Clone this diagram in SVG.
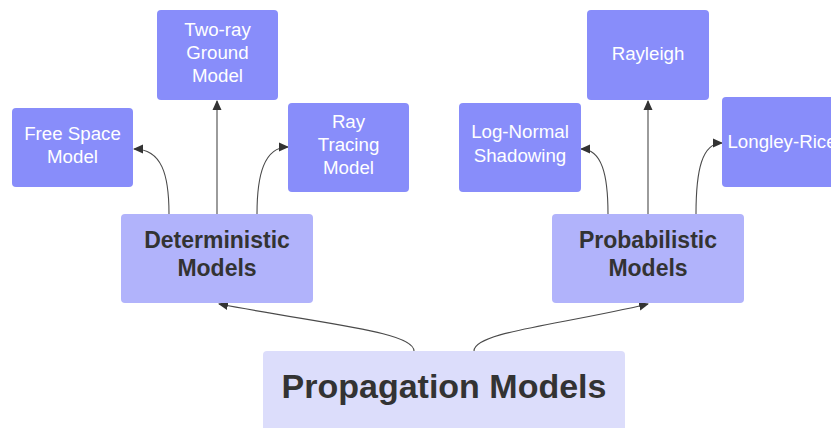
<svg xmlns="http://www.w3.org/2000/svg" width="831" height="428" viewBox="0 0 831 428">
<style>
.leaf{fill:#888DFA}
.mid{fill:#B1B3FB}
.root{fill:#DCDDFB}
.lt{font-family:"Liberation Sans",Arial,sans-serif;font-size:18.7px;fill:#ffffff;text-anchor:middle}
.mt{font-family:"Liberation Sans",Arial,sans-serif;font-size:23px;font-weight:bold;fill:#333333;text-anchor:middle}
.rt{font-family:"Liberation Sans",Arial,sans-serif;font-size:34px;font-weight:bold;fill:#333333;text-anchor:middle}
.c{fill:none;stroke:#4a4a4a;stroke-width:1.1;marker-end:url(#ah)}
</style>
<defs>
<marker id="ah" viewBox="0 0 10 10" refX="9" refY="5" markerWidth="10" markerHeight="10" markerUnits="userSpaceOnUse" orient="auto">
<path d="M0,0.5 L10,5 L0,9.5 Z" fill="#333333"/>
</marker>
</defs>
<rect width="831" height="428" fill="#ffffff"/>
<g id="connectors">
<path class="c" d="M414,351 C414,332 330,325 219,304"/>
<path class="c" d="M474,351 C474,332 560,325 648,304"/>
<path class="c" d="M169,214 C169,175 162,149 134,149"/>
<path class="c" d="M217,214 L217,101"/>
<path class="c" d="M257,214 C257,175 264,147 288,147"/>
<path class="c" d="M608,214 C608,175 602,149 581,149"/>
<path class="c" d="M648,214 L648,101"/>
<path class="c" d="M696,214 C696,170 702,143 722,143"/>
</g>
<g id="free-space">
<rect class="leaf" x="12" y="108" width="121" height="79" rx="4"/>
<text class="lt" x="72.5" y="140">Free Space</text>
<text class="lt" x="72.5" y="163">Model</text>
</g>
<g id="two-ray">
<rect class="leaf" x="157" y="10" width="121" height="90" rx="4"/>
<text class="lt" x="217.5" y="36">Two-ray</text>
<text class="lt" x="217.5" y="59">Ground</text>
<text class="lt" x="217.5" y="82">Model</text>
</g>
<g id="ray-tracing">
<rect class="leaf" x="288" y="103" width="121" height="89" rx="4"/>
<text class="lt" x="348.5" y="128">Ray</text>
<text class="lt" x="348.5" y="151">Tracing</text>
<text class="lt" x="348.5" y="174">Model</text>
</g>
<g id="log-normal">
<rect class="leaf" x="459" y="103" width="122" height="89" rx="4"/>
<text class="lt" x="520" y="138">Log-Normal</text>
<text class="lt" x="520" y="162">Shadowing</text>
</g>
<g id="rayleigh">
<rect class="leaf" x="587" y="10" width="122" height="90" rx="4"/>
<text class="lt" x="648" y="60">Rayleigh</text>
</g>
<g id="longley-rice">
<rect class="leaf" x="722" y="97" width="122" height="90" rx="4"/>
<text class="lt" x="782" y="148">Longley-Rice</text>
</g>
<g id="deterministic">
<rect class="mid" x="121" y="214" width="192" height="89" rx="4"/>
<text class="mt" x="217" y="248">Deterministic</text>
<text class="mt" x="217" y="276">Models</text>
</g>
<g id="probabilistic">
<rect class="mid" x="552" y="214" width="192" height="89" rx="4"/>
<text class="mt" x="648" y="248">Probabilistic</text>
<text class="mt" x="648" y="276">Models</text>
</g>
<g id="propagation">
<rect class="root" x="263" y="351" width="362" height="90" rx="4"/>
<text class="rt" x="444" y="398">Propagation Models</text>
</g>
</svg>
